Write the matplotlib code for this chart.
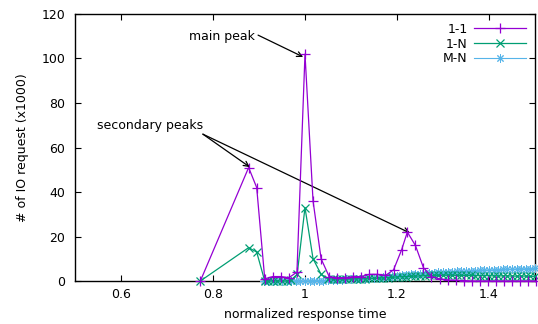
import matplotlib.pyplot as plt

# 1-1 series (purple, +)
x_11 = [0.7725, 0.8775, 0.895, 0.9125, 0.93, 0.9475, 0.965, 0.9825, 1.0, 1.0175, 1.035,
        1.0525, 1.07, 1.0875, 1.105, 1.1225, 1.14, 1.1575, 1.175, 1.1925, 1.21, 1.2225,
        1.24, 1.2575, 1.275, 1.2925, 1.31, 1.3275, 1.345, 1.3625, 1.38, 1.3975, 1.415,
        1.4325, 1.45, 1.4675, 1.485, 1.5025]
y_11 = [0, 51, 42, 1, 2, 2, 1.5, 4, 102, 36, 10,
        2, 1.5, 1.5, 2, 2, 3, 3, 2.5, 5, 14, 22,
        16, 6, 2, 1, 0.5, 0.3, 0.2, 0, 0, 0, 0,
        0, 0, 0, 0, 0]

# 1-N series (green, x)
x_1n = [0.7725, 0.8775, 0.895, 0.9125, 0.92, 0.93, 0.94, 0.95, 0.96, 0.97, 0.983, 1.0,
        1.0175, 1.035, 1.05, 1.06, 1.07, 1.08, 1.09, 1.10, 1.11, 1.12, 1.13, 1.14, 1.15,
        1.16, 1.17, 1.18, 1.19, 1.20, 1.21, 1.22, 1.23, 1.24, 1.25, 1.26, 1.27, 1.28,
        1.29, 1.30, 1.31, 1.32, 1.33, 1.34, 1.35, 1.36, 1.37, 1.38, 1.39, 1.40, 1.41,
        1.42, 1.43, 1.44, 1.45, 1.46, 1.47, 1.48, 1.49, 1.50]
y_1n = [0, 15, 13, 0, 0, 0, 0, 0, 0, 0.5, 3, 33,
        10, 3, 1, 0.8, 0.8, 0.8, 0.8, 0.9, 1, 1, 1, 1.2, 1.2,
        1.3, 1.4, 1.5, 1.6, 1.8, 2, 2, 2.1, 2.2, 2.3, 2.4, 2.5, 2.5,
        2.5, 2.6, 2.6, 2.6, 2.5, 2.5, 2.5, 2.5, 2.4, 2.4, 2.4, 2.4, 2.3,
        2.3, 2.3, 2.3, 2.2, 2.2, 2.2, 2.2, 2.1, 2.1]

# M-N series (light blue, asterisk)
x_mn = [0.91, 0.92, 0.93, 0.94, 0.95, 0.96, 0.97, 0.98, 0.99, 1.00, 1.01, 1.02, 1.03,
        1.04, 1.05, 1.06, 1.07, 1.08, 1.09, 1.10, 1.11, 1.12, 1.13, 1.14, 1.15, 1.16,
        1.17, 1.18, 1.19, 1.20, 1.21, 1.22, 1.23, 1.24, 1.25, 1.26, 1.27, 1.28, 1.29,
        1.30, 1.31, 1.32, 1.33, 1.34, 1.35, 1.36, 1.37, 1.38, 1.39, 1.40, 1.41, 1.42,
        1.43, 1.44, 1.45, 1.46, 1.47, 1.48, 1.49, 1.50]
y_mn = [0, 0, 0, 0, 0, 0, 0, 0, 0, 0, 0.1, 0.1, 0.2,
        0.2, 0.3, 0.4, 0.5, 0.6, 0.7, 0.8, 0.9, 1.0, 1.1, 1.2, 1.4, 1.5,
        1.7, 1.9, 2.1, 2.4, 2.6, 2.8, 3.0, 3.1, 3.3, 3.4, 3.6, 3.7, 3.9,
        4.0, 4.1, 4.2, 4.3, 4.4, 4.5, 4.6, 4.7, 4.8, 4.9, 5.0, 5.0, 5.1,
        5.2, 5.3, 5.3, 5.4, 5.5, 5.5, 5.6, 5.7]

plt.rcParams['font.family'] = 'DejaVu Sans'
plt.rcParams['font.size'] = 9

fig = plt.figure(figsize=(5.38, 3.24), dpi=100)
ax = fig.add_axes([0.1394, 0.1327, 0.8550, 0.8241])

ax.plot(x_mn, y_mn, color='#56b4e9', marker=(8, 2, 0), markersize=6, lw=0.8,
        mew=0.7, label='M-N', clip_on=False, zorder=2)
ax.plot(x_1n, y_1n, color='#009e73', marker='x', markersize=5.5, lw=0.9,
        mew=0.9, label='1-N', clip_on=False, zorder=3)
ax.plot(x_11, y_11, color='#9400d3', marker='+', markersize=7, lw=0.9,
        mew=0.9, label='1-1', clip_on=False, zorder=4)

ax.set_xlim(0.5, 1.5)
ax.set_ylim(0, 120)
ax.set_xticks([0.6, 0.8, 1.0, 1.2, 1.4])
ax.set_xticklabels(['0.6', '0.8', '1', '1.2', '1.4'])
ax.set_yticks([0, 20, 40, 60, 80, 100, 120])
ax.tick_params(direction='in', top=True, right=True, length=4, width=0.8)
ax.tick_params(axis='x', pad=5)
ax.tick_params(axis='y', pad=7)
for s in ax.spines.values():
    s.set_linewidth(1)
    s.set_zorder(1)

ax.set_xlabel('normalized response time', labelpad=5)
ax.set_ylabel('# of IO request (x1000)', labelpad=9)

arrow = dict(arrowstyle='->', color='black', lw=0.9, shrinkA=0, shrinkB=0)
ax.text(0.891, 110, 'main peak', ha='right', va='center')
ax.annotate('', xy=(0.996, 100.7), xytext=(0.898, 110.5), arrowprops=arrow)
ax.text(0.548, 69.7, 'secondary peaks', ha='left', va='center')
ax.annotate('', xy=(0.880, 51.2), xytext=(0.778, 66), arrowprops=arrow)
ax.annotate('', xy=(1.228, 21.6), xytext=(0.778, 66), arrowprops=arrow)

h, l = ax.get_legend_handles_labels()
ax.legend(h[::-1], l[::-1], loc='upper right', frameon=False, markerfirst=False,
          handlelength=4.2, borderaxespad=0.3, labelspacing=0.15, handletextpad=0.5)

fig.savefig('out.png', dpi=100)
